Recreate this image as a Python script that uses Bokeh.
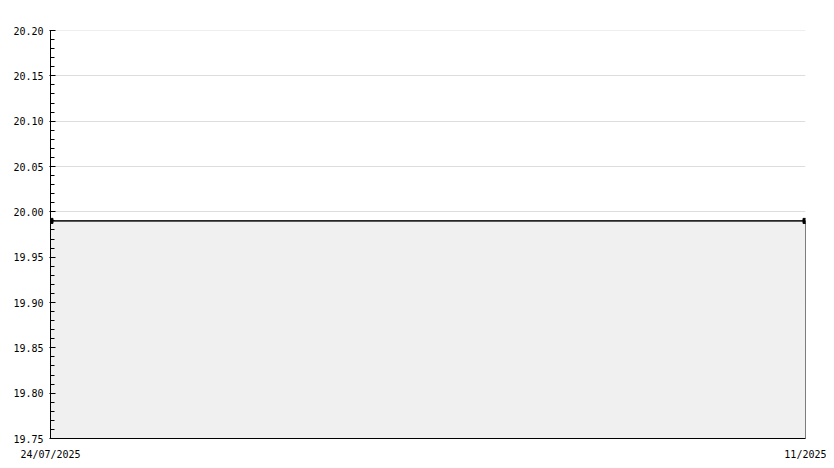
from datetime import datetime
import numpy as np
from bokeh.plotting import figure
from bokeh.models import Range1d, FixedTicker, NumeralTickFormatter
from bokeh.embed import file_html
from bokeh.resources import INLINE

# data
dates = [datetime(2025, 7, 24), datetime(2025, 11, 1)]
values = [19.99, 19.99]
x_labels = ["24/07/2025", "11/2025"]
y_min, y_max = 19.75, 20.20
y_major_step = 0.05
y_minor_step = 0.01

FONT = "DejaVu Sans Mono"

xs = [d.timestamp() * 1000 for d in dates]
y_major = [round(v, 2) for v in np.arange(y_min, y_max + y_major_step / 2, y_major_step)]
y_minor = [round(v, 2) for v in np.arange(y_min, y_max + y_minor_step / 2, y_minor_step)]

p = figure(width=826, height=460, output_backend="svg", toolbar_location=None,
           x_range=Range1d(xs[0], xs[-1]), y_range=Range1d(y_min - 1e-9, y_max + 1e-9),
           frame_width=755, frame_height=408,
           min_border_left=50, min_border_right=21, min_border_top=30, min_border_bottom=22)
p.outline_line_color = None
p.background_fill_color = "white"
p.border_fill_color = "white"

# area under the line with black outline
px = xs + xs[::-1]
py = values + [y_min] * len(values)
p.patch(px, py, fill_color="#f0f0f0", line_color="black", line_width=1)
p.line(xs, values, line_color="black", line_width=1)
p.scatter(xs, values, marker="square", size=5, color="black")

# x axis
p.xaxis.ticker = FixedTicker(ticks=xs)
p.xaxis.major_label_overrides = {xs[i]: x_labels[i] for i in range(len(xs))}
p.xaxis.major_tick_line_color = None
p.xaxis.minor_tick_line_color = None
p.xaxis.axis_line_color = "black"
p.xaxis.major_label_text_font = FONT
p.xaxis.major_label_text_font_size = "10px"
p.xaxis.major_label_text_color = "black"
p.xaxis.major_label_standoff = 4
p.xgrid.visible = False

# y axis
p.yaxis.ticker = FixedTicker(ticks=y_major, minor_ticks=y_minor)
p.yaxis.formatter = NumeralTickFormatter(format="0.00")
p.yaxis.axis_line_color = "black"
p.yaxis.major_tick_in = 5
p.yaxis.major_tick_out = 1
p.yaxis.minor_tick_in = 4
p.yaxis.minor_tick_out = 0
p.yaxis.major_tick_line_color = "black"
p.yaxis.minor_tick_line_color = "black"
p.yaxis.major_label_text_font = FONT
p.yaxis.major_label_text_font_size = "10px"
p.yaxis.major_label_text_color = "black"
p.yaxis.major_label_standoff = 6
p.ygrid.grid_line_color = "#dddddd"

open("out.html", "w").write(file_html(p, INLINE))
